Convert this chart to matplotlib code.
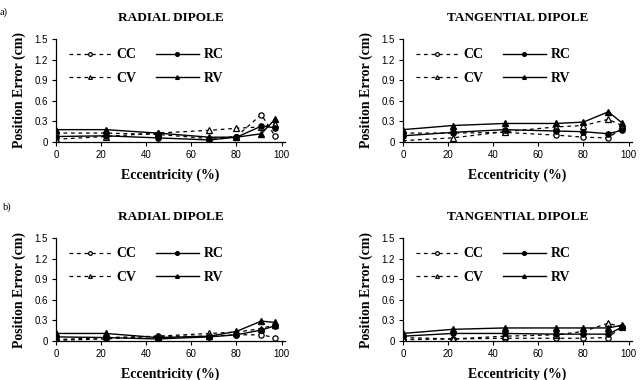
import numpy as np
import matplotlib.pyplot as plt

# eccentricity (%) of test dipoles
ecc = [0, 22, 45, 68, 80, 91, 97]

# a) radial dipole
a_rad_cc = [0.13, 0.13, 0.11, 0.05, 0.08, 0.40, 0.09]
a_rad_cv = [0.04, 0.08, 0.13, 0.17, 0.20, 0.22, 0.26]
a_rad_rc = [0.08, 0.09, 0.06, 0.03, 0.07, 0.23, 0.21]
a_rad_rv = [0.18, 0.18, 0.13, 0.07, 0.07, 0.12, 0.33]

# a) tangential dipole
a_tan_cc = [0.13, 0.13, 0.14, 0.10, 0.07, 0.06, 0.20]
a_tan_cv = [0.02, 0.06, 0.15, 0.22, 0.24, 0.33, 0.24]
a_tan_rc = [0.09, 0.14, 0.18, 0.16, 0.15, 0.12, 0.17]
a_tan_rv = [0.18, 0.24, 0.27, 0.27, 0.29, 0.44, 0.28]

# b) radial dipole
b_rad_cc = [0.02, 0.05, 0.07, 0.07, 0.09, 0.09, 0.05]
b_rad_cv = [0.01, 0.03, 0.07, 0.11, 0.13, 0.18, 0.24]
b_rad_rc = [0.06, 0.05, 0.03, 0.06, 0.09, 0.16, 0.22]
b_rad_rv = [0.11, 0.11, 0.05, 0.07, 0.14, 0.29, 0.27]

# b) tangential dipole
b_tan_cc = [0.02, 0.03, 0.04, 0.04, 0.04, 0.05, 0.21]
b_tan_cv = [0.05, 0.03, 0.07, 0.09, 0.14, 0.26, 0.20]
b_tan_rc = [0.07, 0.11, 0.11, 0.10, 0.10, 0.10, 0.20]
b_tan_rv = [0.11, 0.17, 0.19, 0.19, 0.19, 0.19, 0.23]

yticks = [0, 0.3, 0.6, 0.9, 1.2, 1.5]
ytick_labels = ['0', '0.3', '0.6', '0.9', '1.2', '1.5']
xticks = [0, 20, 40, 60, 80, 100]

serif = 'Liberation Serif'
sans = 'Liberation Sans'
dash = (0, (3, 3))

fig = plt.figure(figsize=(6.43, 3.8), dpi=100)


def panel(rect, title, cc, cv, rc, rv):
    ax = fig.add_axes(rect)
    ax.plot(ecc, cc, color='k', lw=0.9, ls=dash, marker='o', ms=3.8, mfc='white', mew=0.9, label='CC')
    ax.plot(ecc, cv, color='k', lw=0.9, ls=dash, marker='^', ms=3.8, mfc='white', mew=0.9, label='CV')
    ax.plot(ecc, rc, color='k', lw=1.0, marker='o', ms=3.8, label='RC')
    ax.plot(ecc, rv, color='k', lw=1.0, marker='^', ms=3.8, label='RV')
    ax.set_xlim(0, 101.5)
    ax.set_ylim(0, 1.5)
    ax.set_xticks(xticks)
    ax.set_yticks(yticks)
    ax.set_yticklabels(ytick_labels)
    for s in ['top', 'right']:
        ax.spines[s].set_visible(False)
    for s in ['left', 'bottom']:
        ax.spines[s].set_linewidth(0.9)
    ax.tick_params(direction='out', length=3, width=0.8, labelsize=7, pad=3)
    for lab in ax.get_xticklabels() + ax.get_yticklabels():
        lab.set_family(sans)
    ax.set_title(title, fontfamily=serif, fontweight='bold', fontsize=9.5, pad=13)
    ax.set_xlabel('Eccentricity (%)', fontfamily=serif, fontweight='bold', fontsize=10, labelpad=6)
    ax.set_ylabel('Position Error (cm)', fontfamily=serif, fontweight='bold', fontsize=10, labelpad=6)
    ax.legend(ncol=2, frameon=False, loc='upper left', bbox_to_anchor=(0.0, 1.03),
              handlelength=3.1, handletextpad=0.35, columnspacing=1.4, labelspacing=0.75,
              prop={'family': serif, 'weight': 'bold', 'size': 10}, markerscale=0.7)
    return ax


w = 229 / 643
h = 103 / 380
panel([56 / 643, 1 - 142 / 380, w, h], 'RADIAL DIPOLE', a_rad_cc, a_rad_cv, a_rad_rc, a_rad_rv)
panel([403 / 643, 1 - 142 / 380, w, h], 'TANGENTIAL DIPOLE', a_tan_cc, a_tan_cv, a_tan_rc, a_tan_rv)
panel([56 / 643, 1 - 341 / 380, w, h], 'RADIAL DIPOLE', b_rad_cc, b_rad_cv, b_rad_rc, b_rad_rv)
panel([403 / 643, 1 - 341 / 380, w, h], 'TANGENTIAL DIPOLE', b_tan_cc, b_tan_cv, b_tan_rc, b_tan_rv)

fig.text(0.0, 1 - 12 / 380, 'a)', fontfamily=serif, fontsize=7.5, va='center')
fig.text(0.004, 1 - 207 / 380, 'b)', fontfamily=serif, fontsize=7.5, va='center')

fig.savefig('out.png', dpi=100)
